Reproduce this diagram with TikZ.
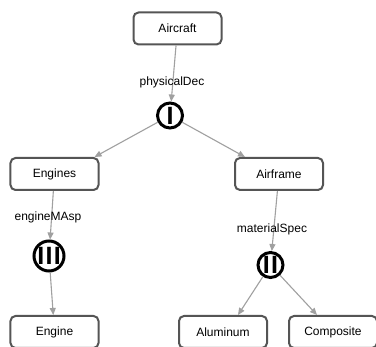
\documentclass[tikz,border=0pt]{standalone}
\usepackage{fontspec}
\setmainfont{Liberation Sans}
\usetikzlibrary{arrows.meta}
\definecolor{boxgray}{HTML}{555555}
\definecolor{linegray}{HTML}{A0A0A0}
\begin{document}
\begin{tikzpicture}[x=1pt,y=-1pt,
  box/.style={draw=boxgray, line width=2pt, rounded corners=5pt, fill=white,
    minimum width=88pt, minimum height=32pt, inner sep=0pt,
    font=\fontsize{12}{14}\selectfont},
  dec/.style={circle, draw=black, line width=3pt, fill=white,
    minimum size=25pt, inner sep=0pt,
    font=\bfseries\fontsize{25}{25}\selectfont},
  conn/.style={draw=linegray, line width=1.1pt,
    -{Triangle[length=7pt,width=6pt]}},
  lab/.style={font=\fontsize{12}{14}\selectfont, inner sep=0pt}]
\clip (0,0) rectangle (376,347);
\fill[white] (0,0) rectangle (376,347);
% nodes
\node[box] (air) at (177.5,28.5) {Aircraft};
\node[dec] (d1) at (170,115.5) {I};
\node[box] (engs) at (54.5,174) {Engines};
\node[box] (afr) at (279,174) {Airframe};
\node[dec, minimum size=30pt] (d3) at (49,256) {I\kern1.3pt I\kern1.3pt I};
\node[dec] (d2) at (270.5,265) {I\kern1.3pt I};
\node[box] (eng) at (54.5,332) {Engine};
\node[box] (alu) at (223,332) {Aluminum};
\node[box] (comp) at (333,332) {Composite};
% connectors
\draw[conn] (air) -- (d1);
\draw[conn] (d1) -- ([xshift=-5pt]engs.north east);
\draw[conn] (d1) -- ([xshift=11pt]afr.north west);
\draw[conn] (engs) -- (d3);
\draw[conn] (d3) -- (eng);
\draw[conn] (afr) -- (d2);
\draw[conn] (d2) -- ([xshift=15pt]alu.north);
\draw[conn] (d2) -- ([xshift=-16pt]comp.north);
% labels
\node[lab] (l1) at (172,82) {physicalDec};
\node[lab] (l2) at (48,217) {engineMAsp};
\node[lab] (l3) at (272,229) {materialSpec};
\end{tikzpicture}
\end{document}
